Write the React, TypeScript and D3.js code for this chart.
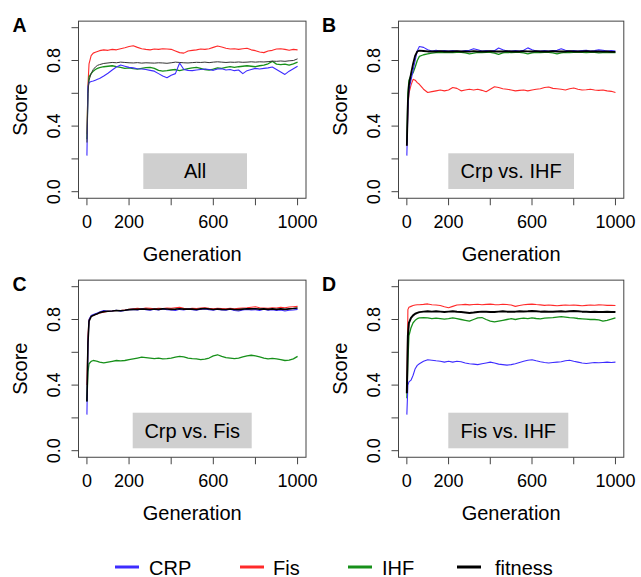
import React from "react";
import * as d3 from "d3";

// ---------- data ----------
const generations = [0, 5, 10, 20, 30, 40, 50, 60, 80, 100, 120, 140, 160, 180, 200, 220, 240, 260, 280, 300, 320, 340, 360, 380, 400, 420, 440, 460, 480, 500, 520, 540, 560, 580, 600, 620, 640, 660, 680, 700, 720, 740, 760, 780, 800, 820, 840, 860, 880, 900, 920, 940, 960, 980, 1000];

const seriesNames = ["CRP", "Fis", "IHF", "fitness"];
const panelLetters = ["A", "B", "C", "D"];
const panelTitles = ["All", "Crp vs. IHF", "Crp vs. Fis", "Fis vs. IHF"];
const xTicks = [0, 200, 400, 600, 800, 1000];
const xTickLabels = [0, 200, 600, 1000];
const yTicks = [0, 0.2, 0.4, 0.6, 0.8, 1.0];
const yTickLabels = [0, 0.4, 0.8];

// Panel A (All)
const aCRP = [0.22, 0.64, 0.665, 0.672, 0.675, 0.68, 0.685, 0.69, 0.705, 0.722, 0.742, 0.76, 0.772, 0.765, 0.758, 0.755, 0.75, 0.748, 0.745, 0.74, 0.735, 0.72, 0.705, 0.695, 0.71, 0.72, 0.785, 0.745, 0.74, 0.738, 0.742, 0.745, 0.748, 0.745, 0.74, 0.748, 0.75, 0.742, 0.745, 0.738, 0.742, 0.72, 0.738, 0.745, 0.752, 0.748, 0.752, 0.755, 0.76, 0.745, 0.73, 0.715, 0.735, 0.75, 0.765];
const aFis = [0.35, 0.65, 0.78, 0.83, 0.845, 0.85, 0.855, 0.86, 0.865, 0.862, 0.868, 0.865, 0.872, 0.878, 0.885, 0.89, 0.88, 0.872, 0.868, 0.865, 0.87, 0.868, 0.872, 0.87, 0.868, 0.858, 0.848, 0.845, 0.858, 0.862, 0.865, 0.87, 0.868, 0.872, 0.88, 0.888, 0.882, 0.875, 0.87, 0.872, 0.868, 0.872, 0.875, 0.865, 0.86, 0.852, 0.848, 0.858, 0.862, 0.87, 0.872, 0.868, 0.862, 0.868, 0.865];
const aIHF = [0.32, 0.62, 0.7, 0.72, 0.735, 0.745, 0.752, 0.757, 0.762, 0.765, 0.768, 0.762, 0.758, 0.752, 0.755, 0.75, 0.748, 0.752, 0.756, 0.758, 0.752, 0.74, 0.735, 0.738, 0.742, 0.745, 0.738, 0.745, 0.75, 0.755, 0.758, 0.752, 0.745, 0.742, 0.748, 0.755, 0.752, 0.758, 0.762, 0.758, 0.762, 0.765, 0.768, 0.765, 0.762, 0.768, 0.772, 0.78, 0.795, 0.778, 0.775, 0.778, 0.772, 0.78, 0.79];
const aFit = [0.3, 0.6, 0.68, 0.72, 0.745, 0.76, 0.77, 0.775, 0.782, 0.785, 0.788, 0.786, 0.79, 0.788, 0.786, 0.785, 0.787, 0.784, 0.786, 0.785, 0.784, 0.786, 0.785, 0.783, 0.786, 0.79, 0.788, 0.786, 0.785, 0.787, 0.789, 0.788, 0.79, 0.787, 0.79, 0.792, 0.79, 0.788, 0.79, 0.789, 0.791, 0.789, 0.79, 0.792, 0.79, 0.792, 0.791, 0.793, 0.796, 0.795, 0.797, 0.795, 0.798, 0.8, 0.81];

// Panel B (Crp vs. IHF)
const bCRP = [0.22, 0.5, 0.62, 0.68, 0.74, 0.8, 0.86, 0.885, 0.88, 0.865, 0.858, 0.862, 0.858, 0.86, 0.857, 0.86, 0.858, 0.856, 0.86, 0.862, 0.872, 0.865, 0.858, 0.86, 0.857, 0.86, 0.876, 0.865, 0.858, 0.857, 0.86, 0.858, 0.862, 0.877, 0.866, 0.858, 0.857, 0.86, 0.858, 0.86, 0.862, 0.871, 0.862, 0.857, 0.86, 0.858, 0.86, 0.862, 0.858, 0.86, 0.865, 0.862, 0.858, 0.86, 0.858];
const bFis = [0.28, 0.5, 0.6, 0.65, 0.685, 0.68, 0.665, 0.655, 0.625, 0.605, 0.61, 0.615, 0.62, 0.615, 0.62, 0.635, 0.63, 0.615, 0.62, 0.625, 0.62, 0.625, 0.618, 0.61, 0.625, 0.64, 0.635, 0.628, 0.625, 0.62, 0.615, 0.618, 0.62, 0.615, 0.62, 0.625, 0.628, 0.635, 0.638, 0.63, 0.628, 0.625, 0.62, 0.628, 0.632, 0.625, 0.62, 0.622, 0.625, 0.62, 0.618, 0.62, 0.615, 0.612, 0.605];
const bIHF = [0.3, 0.6, 0.68, 0.71, 0.725, 0.76, 0.8, 0.825, 0.835, 0.84, 0.845, 0.848, 0.85, 0.848, 0.85, 0.848, 0.85, 0.849, 0.846, 0.84, 0.845, 0.85, 0.848, 0.85, 0.849, 0.845, 0.838, 0.846, 0.85, 0.848, 0.85, 0.849, 0.846, 0.84, 0.846, 0.85, 0.848, 0.85, 0.849, 0.846, 0.84, 0.846, 0.85, 0.848, 0.85, 0.849, 0.85, 0.848, 0.85, 0.849, 0.846, 0.848, 0.85, 0.848, 0.848];
const bFit = [0.28, 0.55, 0.65, 0.72, 0.78, 0.83, 0.855, 0.86, 0.858, 0.855, 0.856, 0.855, 0.857, 0.855, 0.856, 0.855, 0.857, 0.855, 0.856, 0.854, 0.857, 0.855, 0.856, 0.855, 0.857, 0.855, 0.856, 0.855, 0.857, 0.855, 0.856, 0.855, 0.857, 0.856, 0.855, 0.857, 0.855, 0.856, 0.855, 0.857, 0.855, 0.856, 0.855, 0.857, 0.855, 0.856, 0.855, 0.857, 0.855, 0.856, 0.855, 0.854, 0.855, 0.853, 0.852];

// Panel C (Crp vs. Fis)
const cCRP = [0.22, 0.65, 0.8, 0.825, 0.83, 0.835, 0.84, 0.845, 0.855, 0.85, 0.852, 0.856, 0.85, 0.855, 0.86, 0.862, 0.858, 0.864, 0.86, 0.856, 0.862, 0.858, 0.864, 0.86, 0.858, 0.855, 0.862, 0.858, 0.864, 0.86, 0.857, 0.862, 0.865, 0.86, 0.856, 0.862, 0.858, 0.856, 0.862, 0.855, 0.852, 0.858, 0.862, 0.858, 0.86, 0.855, 0.862, 0.856, 0.86, 0.855, 0.858, 0.852, 0.856, 0.858, 0.862];
const cFis = [0.4, 0.7, 0.8, 0.82, 0.825, 0.83, 0.835, 0.84, 0.845, 0.85, 0.852, 0.855, 0.855, 0.858, 0.862, 0.865, 0.868, 0.866, 0.87, 0.868, 0.866, 0.869, 0.867, 0.87, 0.868, 0.872, 0.875, 0.868, 0.866, 0.869, 0.867, 0.87, 0.872, 0.868, 0.866, 0.869, 0.867, 0.865, 0.868, 0.866, 0.868, 0.87, 0.872, 0.875, 0.878, 0.872, 0.87, 0.868, 0.872, 0.87, 0.874, 0.872, 0.876, 0.878, 0.88];
const cIHF = [0.3, 0.48, 0.53, 0.545, 0.55, 0.548, 0.545, 0.54, 0.535, 0.54, 0.545, 0.55, 0.548, 0.55, 0.555, 0.56, 0.565, 0.57, 0.568, 0.565, 0.562, 0.565, 0.56, 0.562, 0.565, 0.57, 0.575, 0.572, 0.565, 0.562, 0.56, 0.555, 0.558, 0.565, 0.578, 0.585, 0.575, 0.568, 0.565, 0.562, 0.565, 0.572, 0.578, 0.582, 0.578, 0.572, 0.565, 0.56, 0.563, 0.56, 0.555, 0.55, 0.552, 0.56, 0.575];
const cFit = [0.3, 0.66, 0.79, 0.818, 0.825, 0.83, 0.835, 0.842, 0.848, 0.85, 0.852, 0.855, 0.853, 0.856, 0.86, 0.862, 0.862, 0.864, 0.863, 0.861, 0.864, 0.862, 0.865, 0.864, 0.862, 0.863, 0.866, 0.863, 0.864, 0.863, 0.861, 0.865, 0.867, 0.864, 0.861, 0.864, 0.862, 0.861, 0.864, 0.861, 0.86, 0.863, 0.866, 0.865, 0.866, 0.863, 0.865, 0.862, 0.865, 0.862, 0.865, 0.862, 0.865, 0.867, 0.87];

// Panel D (Fis vs. IHF)
const dCRP = [0.22, 0.4, 0.42, 0.43, 0.46, 0.5, 0.52, 0.53, 0.545, 0.555, 0.552, 0.548, 0.545, 0.54, 0.545, 0.54, 0.545, 0.542, 0.535, 0.53, 0.528, 0.525, 0.53, 0.535, 0.54, 0.535, 0.528, 0.525, 0.522, 0.525, 0.53, 0.538, 0.545, 0.552, 0.555, 0.548, 0.542, 0.538, 0.535, 0.538, 0.54, 0.542, 0.548, 0.552, 0.545, 0.54, 0.535, 0.532, 0.535, 0.538, 0.536, 0.538, 0.54, 0.538, 0.54];
const dFis = [0.35, 0.86, 0.875, 0.88, 0.885, 0.888, 0.89, 0.89, 0.892, 0.895, 0.89, 0.888, 0.885, 0.878, 0.872, 0.88, 0.888, 0.89, 0.892, 0.889, 0.891, 0.893, 0.89, 0.892, 0.894, 0.891, 0.89, 0.893, 0.891, 0.888, 0.88, 0.885, 0.89, 0.892, 0.894, 0.891, 0.889, 0.886, 0.888, 0.886, 0.884, 0.886, 0.888, 0.887, 0.888, 0.886, 0.884, 0.886, 0.888, 0.887, 0.889, 0.888, 0.886, 0.887, 0.885];
const dIHF = [0.32, 0.55, 0.7, 0.75, 0.78, 0.795, 0.805, 0.81, 0.812, 0.81, 0.805, 0.808, 0.805, 0.802, 0.805, 0.81, 0.805, 0.8, 0.795, 0.79, 0.8, 0.81, 0.812, 0.8, 0.79, 0.785, 0.79, 0.795, 0.8, 0.805, 0.8, 0.805, 0.808, 0.805, 0.81, 0.806, 0.804, 0.808, 0.81, 0.812, 0.815, 0.818, 0.815, 0.812, 0.81, 0.806, 0.804, 0.802, 0.8, 0.8, 0.798, 0.79, 0.795, 0.802, 0.81];
const dFit = [0.35, 0.7, 0.78, 0.81, 0.825, 0.835, 0.84, 0.845, 0.848, 0.85, 0.848, 0.85, 0.848, 0.846, 0.848, 0.85, 0.847, 0.845, 0.843, 0.84, 0.842, 0.846, 0.848, 0.847, 0.845, 0.846, 0.848, 0.85, 0.848, 0.847, 0.848, 0.85, 0.849, 0.85, 0.852, 0.85, 0.848, 0.849, 0.848, 0.847, 0.849, 0.85, 0.848, 0.85, 0.852, 0.85, 0.848, 0.847, 0.846, 0.847, 0.846, 0.845, 0.847, 0.846, 0.845];

const panelData = [
  [aCRP, aFis, aIHF, aFit],
  [bCRP, bFis, bIHF, bFit],
  [cCRP, cFis, cIHF, cFit],
  [dCRP, dFis, dIHF, dFit],
];

// ---------- layout / style ----------
const W = 641;
const H = 577;
const FONT = "'Liberation Sans', Arial, Helvetica, sans-serif";
const COLORS = ["#3d2cff", "#ff2a2a", "#17901a", "#000000"];
const WIDTHS = [1.1, 1.1, 1.3, 1.5];
const FIT_WIDTHS = [1.0, 1.8, 1.6, 2.0];
const FIT_COLORS = ["#333333", "#000000", "#000000", "#000000"];

const panelLayout = [
  { bx0: 78.5, bx1: 306, yOff: 0, lbl: [143.3, 153.3, 247, 189], letterX: 12.5 },
  { bx0: 398.5, bx1: 623.8, yOff: 0, lbl: [448.3, 153.3, 574, 189], letterX: 322 },
  { bx0: 78.5, bx1: 306, yOff: 259, lbl: [132.7, 412.7, 251.7, 448.3], letterX: 12.5 },
  { bx0: 398.5, bx1: 623.8, yOff: 259, lbl: [448.3, 412.7, 568.3, 448.3], letterX: 322 },
];

function Panel({ idx }: { idx: number }) {
  const L = panelLayout[idx];
  const pad = ((L.bx1 - L.bx0) * 0.04) / 1.08;
  const x = d3.scaleLinear().domain([0, 1000]).range([L.bx0 + pad, L.bx1 - pad]);
  const y = d3.scaleLinear().domain([0, 1]).range([191.7 + L.yOff, 27.7 + L.yOff]);
  const ypad = 164 * 0.04;
  const by0 = y(1) - ypad;
  const by1 = y(0) + ypad;
  const line = d3
    .line<number>()
    .x((_, i) => x(generations[i]))
    .y((d) => y(d))
    .curve(d3.curveLinear);
  const series = panelData[idx];
  const order = [1, 2, 0, 3];
  const [lx0, ly0, lx1, ly1] = L.lbl;
  const xCenter = (L.bx0 + L.bx1) / 2;
  const yCenter = (y(0) + y(1)) / 2;
  return (
    <g>
      <text x={L.letterX} y={32 + L.yOff} fontFamily={FONT} fontWeight="bold" fontSize={19.5} fill="#000">
        {panelLetters[idx]}
      </text>
      <rect x={lx0} y={ly0} width={lx1 - lx0} height={ly1 - ly0} fill="#cfcfcf" />
      <text x={(lx0 + lx1) / 2} y={(ly0 + ly1) / 2 + 7} textAnchor="middle" fontFamily={FONT} fontSize={20} fill="#000">
        {panelTitles[idx]}
      </text>
      {order.map((k) => (
        <path
          key={k}
          d={line(series[k]) || ""}
          fill="none"
          stroke={k === 3 ? FIT_COLORS[idx] : COLORS[k]}
          strokeWidth={k === 3 ? FIT_WIDTHS[idx] : WIDTHS[k]}
          strokeLinejoin="round"
        />
      ))}
      <rect x={L.bx0} y={by0} width={L.bx1 - L.bx0} height={by1 - by0} fill="none" stroke="#444" strokeWidth={1} />
      {xTicks.map((t) => (
        <line key={"xt" + t} x1={x(t)} x2={x(t)} y1={by1} y2={by1 + 7} stroke="#444" strokeWidth={1} />
      ))}
      {xTickLabels.map((t) => (
        <text key={"xl" + t} x={x(t)} y={228 + L.yOff} textAnchor="middle" fontFamily={FONT} fontSize={18} fill="#000">
          {t}
        </text>
      ))}
      {yTicks.map((t) => (
        <line key={"yt" + t} x1={L.bx0 - 7} x2={L.bx0} y1={y(t)} y2={y(t)} stroke="#444" strokeWidth={1} />
      ))}
      {yTickLabels.map((t) => (
        <text
          key={"yl" + t}
          transform={`translate(${L.bx0 - 18.5},${y(t)}) rotate(-90)`}
          textAnchor="middle"
          fontFamily={FONT}
          fontSize={18}
          fill="#000"
        >
          {d3.format(".1f")(t)}
        </text>
      ))}
      <text x={xCenter} y={260.5 + L.yOff} textAnchor="middle" fontFamily={FONT} fontSize={20} fill="#000">
        Generation
      </text>
      <text
        transform={`translate(${L.bx0 - 51.5},${yCenter}) rotate(-90)`}
        textAnchor="middle"
        fontFamily={FONT}
        fontSize={20}
        fill="#000"
      >
        Score
      </text>
    </g>
  );
}

const legendX = [115, 240, 348, 457];
const legendTextX = [149, 273, 382, 495];

export default function App() {
  return (
    <svg width={W} height={H} style={{ position: "absolute", left: 0, top: 0, background: "#fff" }}>
      <rect x={0} y={0} width={W} height={H} fill="#fff" />
      {[0, 1, 2, 3].map((i) => (
        <Panel key={i} idx={i} />
      ))}
      {seriesNames.map((n, i) => (
        <g key={n}>
          <line x1={legendX[i]} x2={legendX[i] + 24} y1={567} y2={567} stroke={COLORS[i]} strokeWidth={3} />
          <text x={legendTextX[i]} y={574.5} fontFamily={FONT} fontSize={20} fill="#000">
            {n}
          </text>
        </g>
      ))}
    </svg>
  );
}
